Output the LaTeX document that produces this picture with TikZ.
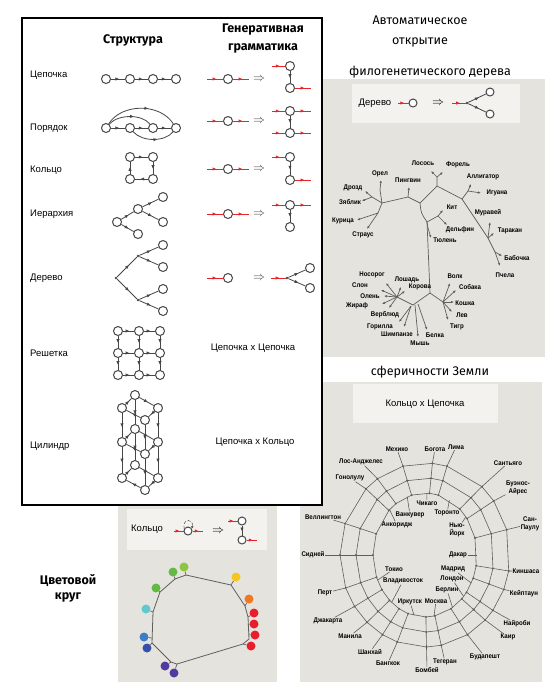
\documentclass[tikz,border=0pt]{standalone}
\usepackage{fontspec}
\setmainfont{Liberation Sans}
\newfontfamily\headfont{Fira Sans}
\newfontfamily\condfont[FakeStretch=0.9]{Liberation Sans}
\usetikzlibrary{arrows.meta,decorations.markings}
\definecolor{pnl}{RGB}{229,227,221}
\definecolor{lbox}{RGB}{243,242,238}
\definecolor{lgray}{RGB}{70,70,70}
\definecolor{tgray}{RGB}{95,95,95}
\definecolor{gred}{RGB}{232,36,42}
\definecolor{cyel}{RGB}{246,198,30}
\definecolor{corg}{RGB}{240,120,35}
\definecolor{cred}{RGB}{232,30,45}
\definecolor{ccy}{RGB}{95,200,208}
\definecolor{cgr}{RGB}{100,185,70}
\definecolor{clg}{RGB}{140,198,62}
\definecolor{cbl}{RGB}{60,125,200}
\definecolor{cbd}{RGB}{55,80,170}
\definecolor{cvi}{RGB}{80,60,160}
\tikzset{>=Latex,
  vtx/.style={circle,draw=lgray,line width=1pt,minimum size=9pt,inner sep=0pt,fill=white},
  dotn/.style={circle,fill=lgray,minimum size=2.6pt,inner sep=0pt},
  mid/.style={postaction={decorate},decoration={markings,mark=at position .6 with {\arrow{Latex[length=4pt,width=3.4pt]}}}},
  lnk/.style={lgray,line width=.8pt,mid},
  rlnk/.style={gred,line width=.9pt,mid},
  impl/.style={text=lgray,inner sep=0pt,font=\large},
  rowlab/.style={anchor=west,inner sep=0pt,font=\fontsize{9.5}{11}\selectfont},
  txt/.style={inner sep=0pt,font=\fontsize{9.5}{11}\selectfont},
  head/.style={align=center,inner sep=0pt,font=\headfont\bfseries\fontsize{12.5}{18}\selectfont},
  headr/.style={align=center,inner sep=0pt,font=\headfont\fontsize{12.5}{20}\selectfont},
  tlab/.style={inner sep=.5pt,align=center,font=\condfont\bfseries\fontsize{6.8}{7.5}\selectfont},
  tbr/.style={tgray,line width=.7pt},
  leaf/.style={tbr,-{Latex[length=3pt,width=2.4pt]}},
  sph/.style={tgray,line width=.6pt},
  cdot/.style={circle,minimum size=9pt,inner sep=0pt}}
\begin{document}
\begin{tikzpicture}[x=1pt,y=-1pt]
\useasboundingbox (0,0) rectangle (550,689);
% panels
\fill[pnl] (323,79) rectangle (545,357);
\fill[pnl] (300,382) rectangle (542,682);
\fill[pnl] (118,505) rectangle (277,682);
\fill[lbox] (352,84) rectangle (520,123);
\fill[lbox] (353,384) rectangle (498,423);
\fill[lbox] (127,509) rectangle (267,550);
\draw[line width=1.3pt,fill=white] (22,18) rectangle (322,505);
% headings
\node[head] (hstr) at (133,40) {Структура};
\node[head] (hgen) at (263,39) {Генеративная\\грамматика};
\node[headr] (haut) at (420,32) {Автоматическое\\открытие};
\node[headr] (hphy) at (430,72) {филогенетического дерева};
\node[headr] (hsph) at (430,372) {сферичности Земли};
\node[head,font=\headfont\bfseries\fontsize{12.5}{15}\selectfont] (hcol) at (68,588) {Цветовой\\круг};
\foreach \y/\t [count=\i] in {75/Цепочка,128/Порядок,170/Кольцо,214/Иерархия,278/Дерево,353/Решетка,446/Цилиндр}
  \node[rowlab] (row\i) at (30,\y) {\t};
\node[txt] (pcc) at (253,348) {Цепочка х Цепочка};
\node[txt] (pck) at (255,442) {Цепочка х Кольцо};
% chain and order
\foreach \x [count=\i] in {106,130,153,176}{
  \node[vtx] (c\i) at (\x,79) {};
  \node[vtx] (o\i) at (\x,128) {};}
\foreach \i/\j in {1/2,2/3,3/4}{\draw[lnk] (c\i) -- (c\j); \draw[lnk] (o\i) -- (o\j);}
\draw[lnk] (o1) .. controls (122,103) and (160,103) .. (o4);
\draw[lnk] (o1) .. controls (118,114) and (142,114) .. (o3);
\draw[lnk] (o2) .. controls (142,142) and (165,142) .. (o4);
% ring
\node[vtx] (r1) at (130,157) {}; \node[vtx] (r2) at (153,157) {};
\node[vtx] (r3) at (153,179) {}; \node[vtx] (r4) at (130,179) {};
\foreach \i/\j in {1/2,2/3,3/4,4/1} \draw[lnk] (r\i) -- (r\j);
% hierarchy
\foreach \n/\x/\y in {1/117/222,2/138/209,3/163/197,4/163/222,5/138/234} \node[vtx] (h\n) at (\x,\y) {};
\foreach \i/\j in {1/2,2/3,2/4,1/5} \draw[lnk] (h\i) -- (h\j);
% tree
\node[dotn] (t0) at (116,278) {}; \node[dotn] (t1) at (138,256) {}; \node[dotn] (t2) at (138,300) {};
\foreach \n/\y in {1/245,2/267,3/289,4/311} \node[vtx] (l\n) at (163,\y) {};
\foreach \i/\j in {t0/t1,t0/t2,t1/l1,t1/l2,t2/l3,t2/l4} \draw[lnk] (\i) -- (\j);
% grid
\foreach \x [count=\i] in {118,139,160}
  \foreach \y [count=\j] in {331,353,375}
    \node[vtx] (g\i\j) at (\x,\y) {};
\foreach \k in {1,2,3}
  \foreach \i/\j in {1/2,2/3}{\draw[lnk] (g\i\k) -- (g\j\k); \draw[lnk] (g\k\i) -- (g\k\j);}
% cylinder
\foreach \y [count=\k] in {395,429,465}{
  \node[vtx] (ct\k) at (135,\y) {}; \node[vtx] (cl\k) at (122,\y+13) {};
  \node[vtx] (cr\k) at (158,\y+13) {}; \node[vtx] (cb\k) at (145,\y+25) {};
  \draw[lnk] (ct\k) -- (cr\k); \draw[lnk] (cr\k) -- (cb\k);
  \draw[lnk] (cb\k) -- (cl\k); \draw[lnk] (cl\k) -- (ct\k);}
\foreach \i/\j in {1/2,2/3}
  \foreach \p in {ct,cl,cr,cb} \draw[lnk] (\p\i) -- (\p\j);
% grammar column
\foreach \y [count=\i] in {79,121,169,214,278}{
  \node[vtx] (gl\i) at (228,\y) {}; \coordinate (gi\i) at (207,\y);
  \draw[rlnk] (gi\i) -- (gl\i);
  \node[impl] (gm\i) at (259,\y) {$\Rightarrow$};}
\foreach \y [count=\i] in {79,121,169,214}{
  \coordinate (go\i) at (249,\y); \draw[rlnk] (gl\i) -- (go\i);}
\foreach \n/\y in {a/66,b/88,c/111,d/133,e/157,f/180,g/205,h/227}{
  \node[vtx] (q\n) at (290,\y) {};
  \coordinate (qi\n) at (272,\y); \coordinate (qo\n) at (311,\y);}
\foreach \u/\v in {a/b,c/d,e/f,g/h} \draw[lnk] (q\u) -- (q\v);
\foreach \n in {a,c,d,e,g} \draw[rlnk] (qi\n) -- (q\n);
\foreach \n in {b,c,d,f,g} \draw[rlnk] (q\n) -- (qo\n);
\node[dotn] (qt) at (287,278) {}; \coordinate (qti) at (271,278);
\draw[rlnk] (qti) -- (qt);
\node[vtx] (qu) at (310,268) {}; \node[vtx] (qv) at (310,288) {};
\draw[lnk] (qt) -- (qu); \draw[lnk] (qt) -- (qv);
% phylogenetic tree: legend
\node[txt] (bd) at (375,103) {Дерево};
\node[vtx,minimum size=8pt] (bc) at (413,103) {};
\coordinate (bci) at (398,103); \draw[rlnk] (bci) -- (bc);
\node[impl,text=black] (bim) at (438,103) {$\Rightarrow$};
\node[dotn] (bt) at (467,103) {}; \coordinate (bti) at (452,103); \draw[rlnk] (bti) -- (bt);
\node[vtx,minimum size=8pt] (bl1) at (490,92) {}; \node[vtx,minimum size=8pt] (bl2) at (490,114) {};
\draw[lnk] (bt) -- (bl1); \draw[lnk] (bt) -- (bl2);
% phylogenetic tree
\draw[tbr] (382,203) -- (408,197) -- (420,203) -- (437,186) -- (462,199) -- (488,238) -- (495,252);
\draw[tbr] (420,203) .. controls (421,213) .. (427,222) -- (430,293) -- (413,305) -- (397,297);
\draw[tbr] (430,293) -- (443,302);
\draw[tbr] (382,203) -- (380,190) (382,203) -- (372,197) (382,203) -- (378,213) (437,186) -- (437,177)
  (462,199) -- (468,191) (427,222) -- (438,216) (427,222) -- (428,228);
\foreach \a/\b/\c/\d in {380/190/381/180, 372/197/365/191, 372/197/362/201, 378/213/357/220, 378/213/367/229,
  408/197/409/187, 437/177/431/171, 437/177/443/172, 468/191/471/184, 468/191/481/193, 438/216/443/210,
  438/216/447/225, 428/228/431/238, 488/238/490/222, 488/238/494/233, 495/252/502/256, 495/252/500/266,
  397/297/386/283, 397/297/381/290, 397/297/384/296, 397/297/382/304, 397/297/389/308, 397/297/401/287,
  397/297/405/291, 411/306/399/322, 411/306/404/327, 415/305/418/337, 418/304/427/330, 443/302/450/283,
  443/302/456/290, 443/302/454/302, 443/302/452/312, 443/302/448/320}
  \draw[leaf] (\a,\b) -- (\c,\d);
\foreach \x/\y/\t [count=\i] in {423/163/Лосось, 458/165/Форель, 380/174/Орел, 408/180/Пингвин, 483/177/Аллигатор,
  353/188/Дрозд, 350/202/Зяблик, 497/193/Игуана, 452/207/Кит, 343/221/Курица, 488/213/Муравей, 460/230/Дельфин,
  510/231/Таракан, 363/235/Страус, 445/240/Тюлень, 517/258/Бабочка, 505/275/Пчела, 372/275/Носорог, 407/280/Лошадь,
  455/276/Волк, 360/285/Слон, 420/287/Корова, 470/287/Собака, 370/296/Олень, 465/303/Кошка, 357/306/Жираф,
  385/315/Верблюд, 462/315/Лев, 457/327/Тигр, 380/327/Горилла, 397/334/Шимпанзе, 435/335/Белка, 420/343/Мышь}
  \node[tlab] (tl\i) at (\x,\y) {\t};
% sphere
\node[txt] (sbx) at (425,404) {Кольцо х Цепочка};
\begin{scope}[shift={(425,555)}]
\foreach \rx/\ry in {52/62,69/77,85/92}
  \draw[sph] ({\rx*cos(16)},{-\ry*sin(16)}) \foreach \a in {36,48,75,85,105,124,134,160,180,201,214,227,240,251,271,281,300,315,323,338,350}{ -- ({\rx*cos(\a)},{-\ry*sin(\a)})} -- cycle;
\foreach \a in {16,36,48,75,85,105,124,134,160,180,201,214,227,240,251,271,281,300,315,323,338,350}{
  \draw[sph] ({52*cos(\a)},{-62*sin(\a)}) -- ({85*cos(\a)},{-92*sin(\a)});
  \foreach \rx/\ry in {52/62,69/77,85/92} \fill[tgray] ({\rx*cos(\a)},{-\ry*sin(\a)}) circle[radius=1.1pt];}
\end{scope}
\foreach \a/\x/\y/\t [count=\i] in {16/530/524/{Сан-\\Паулу}, 36/518/488/{Буэнос-\\Айрес}, 48/508/463/Сантьяго,
  75/456/447/Лима, 85/435/449/Богота, 105/397/449/Мехико, 124/361/462/Лос-Анджелес, 134/350/478/Гонолулу,
  160/323/517/Веллингтон, 180/313/555/Сидней, 201/325/593/Перт, 214/328/621/Джакарта, 227/350/636/Манила,
  240/370/652/Шанхай, 251/388/663/Бангкок, 271/427/670/Бомбей, 281/445/662/Тегеран, 300/485/657/Будапешт,
  315/508/637/Каир, 323/517/624/Найроби, 338/524/594/Кейптаун, 350/526/571/Киншаса}{
  \node[tlab] (so\i) at (\x,\y) {\t};
  \draw[sph] ({425+85*cos(\a)},{555-92*sin(\a)}) -- (so\i);}
\foreach \a/\x/\y/\t [count=\i] in {88/427/503/Чикаго, 110/410/515/Ванкувер, 62/447/513/Торонто, 133/397/525/Анкоридж,
  38/457/530/{Нью-\\Йорк}, 0/458/555/Дакар, 204/394/569/Токио, 230/403/581/Владивосток, 333/453/569/Мадрид,
  318/452/579/Лондон, 302/447/590/Берлин, 258/410/602/Иркутск, 280/436/601/Москва}{
  \node[tlab] (si\i) at (\x,\y) {\t};
  \draw[sph] ({425+52*cos(\a)},{555-62*sin(\a)}) -- (si\i);}
% colour circle: legend
\node[txt] (kbl) at (147,529) {Кольцо};
\node[vtx,minimum size=8pt] (kc) at (188,531) {};
\coordinate (kci) at (174,531); \coordinate (kco) at (203,531);
\draw[rlnk] (kci) -- (kc); \draw[rlnk] (kc) -- (kco);
\draw[lgray,densely dashed,line width=.5pt,-{Latex[length=2.5pt,width=2.5pt]}] (kc.150) .. controls (182,518) and (194,518) .. (kc.30);
\node[impl,text=black] (km) at (218,531) {$\Rightarrow$};
\node[vtx,minimum size=8pt] (ka) at (242,521) {}; \node[vtx,minimum size=8pt] (kb) at (242,540) {};
\coordinate (kai) at (228,521); \coordinate (kbo) at (257,540);
\draw[rlnk] (kai) -- (ka); \draw[lnk] (ka) -- (kb); \draw[rlnk] (kb) -- (kbo);
% colour circle
\draw[tbr,line width=.8pt] (160,592) -- (175,579) -- (186,575) -- (231,585) -- (245,606) -- (248,617) -- (249,639)
  -- (243,644) -- (177,664) -- (171,662) -- (152,643) -- (153,612) -- cycle;
\foreach \x/\y/\p/\q/\c [count=\i] in {156/588/160/592/cgr, 173/572/175/579/cgr, 184/567/186/575/clg,
  236/577/231/585/cyel, 249/599/245/606/corg, 254/613/248/617/cred, 254/624/248/625/cred, 255/635/249/634/cred,
  251/646/243/644/cred, 146/609/153/612/ccy, 144/637/152/638/cbl, 147/648/152/643/cbd, 165/666/171/662/cvi,
  174/673/177/664/cvi}{
  \coordinate (ca\i) at (\p,\q);
  \node[cdot,fill=\c] (cd\i) at (\x,\y) {};
  \draw[tbr] (ca\i) -- (cd\i);}
\end{tikzpicture}
\end{document}
